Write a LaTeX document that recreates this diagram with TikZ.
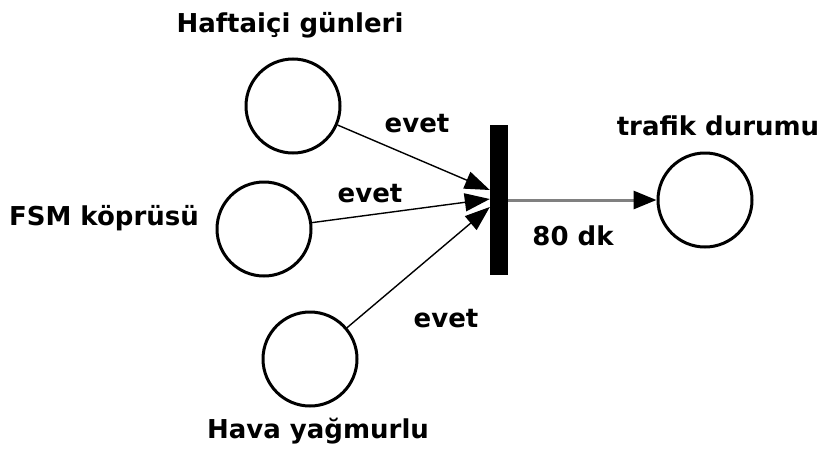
\documentclass[tikz,border=0pt]{standalone}
\usepackage{fontspec}
\setmainfont{DejaVu Sans}
\usepackage{tikz}
\usetikzlibrary{arrows.meta,calc}

\begin{document}
\begin{tikzpicture}[
    x=1pt, y=-1pt,
    place/.style={circle, draw=black, line width=3pt, minimum size=94pt, inner sep=0pt},
    trans/.style={rectangle, fill=black, draw=none, minimum width=18pt, minimum height=150pt, inner sep=0pt},
    lbl/.style={anchor=base, font=\fontsize{26}{30}\selectfont\bfseries, inner sep=0pt},
    arc/.style={-{Triangle[length=25pt,width=18pt]}, line width=1.4pt, draw=black},
    outarc/.style={-{Triangle[length=23pt,width=18pt,black]}, line width=3pt, draw=black!50}
]
    \useasboundingbox (0,0) rectangle (825,450);

    % places and transition
    \node [place] (p1) at (293,106) {};
    \node [place] (p2) at (264,229) {};
    \node [place] (p3) at (310,359) {};
    \node [place] (p4) at (705,200) {};
    \node [trans] (t1) at (499,200) {};

    \coordinate (in1) at ($(t1.west)+(0,-10)$);
    \coordinate (in2) at ($(t1.west)+(0,-1)$);
    \coordinate (in3) at ($(t1.west)+(0,7)$);

    % place names
    \node [lbl] (n1) at (290,32) {Haftaiçi günleri};
    \node [lbl] (n2) at (104,225) {FSM köprüsü};
    \node [lbl] (n3) at (318,438) {Hava yağmurlu};
    \node [lbl] (n4) at (718,135) {trafik durumu};

    % arcs
    \draw [arc] (p1) -- (in1);
    \draw [arc] (p2) -- (in2);
    \draw [arc] (p3) -- (in3);
    \draw [outarc] (t1.east) -- (p4.west);

    \node [lbl] (e1) at (417,132) {evet};
    \node [lbl] (e2) at (370,202) {evet};
    \node [lbl] (e3) at (446,327) {evet};
    \node [lbl] (d1) at (573,245) {80 dk};
\end{tikzpicture}
\end{document}
